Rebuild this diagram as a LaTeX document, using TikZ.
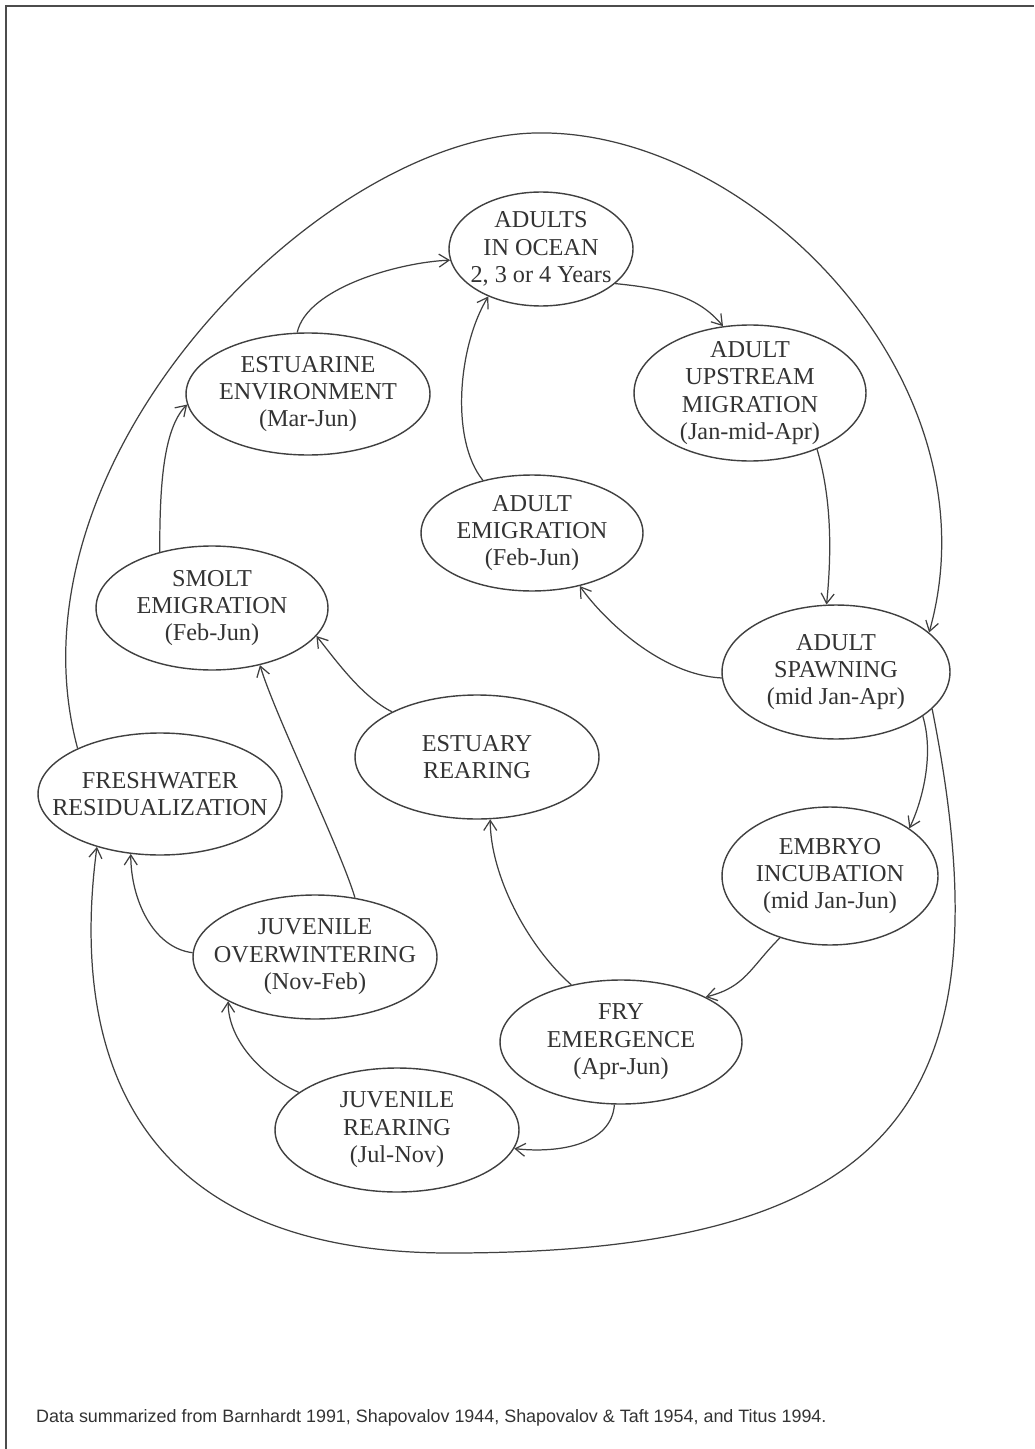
\documentclass[tikz,border=0pt]{standalone}
\usepackage{fontspec}
\setmainfont{Liberation Serif}
\newfontfamily\capfont{Liberation Sans}
\usetikzlibrary{shapes.geometric,arrows.meta}

\begin{document}
\begin{tikzpicture}[x=0.02cm, y=-0.02cm,
    >={Straight Barb[length=2mm,width=2.6mm]},
    stage/.style 2 args={draw=black!75, ellipse, inner sep=-2cm, line width=0.8pt,
        minimum width=#1, minimum height=#2, align=center, text=black!80,
        font=\fontsize{13.8}{15.6}\selectfont},
    link/.style={->, draw=black!75, line width=0.7pt}]
    \useasboundingbox (0,0) rectangle (1034,1449);
    \fill[white] (0,0) rectangle (1034,1449);
    \draw[gray!60!black, line width=1.2pt] (6,1449) -- (6,6) -- (1034,6);

    \node[stage={3.68cm}{2.28cm}] (A) at (541,249) {ADULTS\\IN OCEAN\\2, 3 or 4 Years};
    \node[stage={4.64cm}{2.72cm}] (B) at (750,393) {ADULT\\UPSTREAM\\MIGRATION\\(Jan-mid-Apr)};
    \node[stage={4.88cm}{2.44cm}] (C) at (308,394) {ESTUARINE\\ENVIRONMENT\\(Mar-Jun)};
    \node[stage={4.44cm}{2.32cm}] (D) at (532,533) {ADULT\\EMIGRATION\\(Feb-Jun)};
    \node[stage={4.64cm}{2.48cm}] (E) at (212,608) {SMOLT\\EMIGRATION\\(Feb-Jun)};
    \node[stage={4.56cm}{2.68cm}] (F) at (836,672) {ADULT\\SPAWNING\\(mid Jan-Apr)};
    \node[stage={4.88cm}{2.48cm}] (G) at (477,757) {ESTUARY\\REARING};
    \node[stage={4.88cm}{2.44cm}] (H) at (160,794) {FRESHWATER\\RESIDUALIZATION};
    \node[stage={4.32cm}{2.76cm}] (I) at (830,876) {EMBRYO\\INCUBATION\\(mid Jan-Jun)};
    \node[stage={4.88cm}{2.48cm}] (J) at (315,957) {JUVENILE\\OVERWINTERING\\(Nov-Feb)};
    \node[stage={4.84cm}{2.48cm}] (K) at (621,1042) {FRY\\EMERGENCE\\(Apr-Jun)};
    \node[stage={4.88cm}{2.48cm}] (L) at (397,1130) {JUVENILE\\REARING\\(Jul-Nov)};

    % inner cycle
    \draw[link] (C.100) .. controls +(10,-45) and +(-50,2) .. (A.187);
    \draw[link] (A.-25) .. controls +(50,5) and +(-25,-30) .. (B.112);
    \draw[link] (B.-40) .. controls +(15,50) and +(5,-50) .. (F.98);
    \draw[link] (F.183) .. controls +(-60,-3) and +(25,35) .. (D.-48);
    \draw[link] (D.133) .. controls +(-33,-41) and +(-30,49) .. (A.222);
    \draw[link] (E.133) .. controls +(0,-60) and +(-25,25) .. (C.185);
    \draw[link] (G.152) .. controls +(-30,-15) and +(20,25) .. (E.-15);
    \draw[link] (J.56) .. controls +(-15,-50) and +(15,50) .. (E.-50);
    \draw[link] (J.178) .. controls +(-40,-5) and +(0,45) .. (H.244);
    \draw[link] (L.159) .. controls +(-35,-15) and +(0,40) .. (J.207);
    \draw[link] (K.131) .. controls +(-45,-40) and +(0,55) .. (G.-78);
    \draw[link] (I.231) .. controls +(-30,30) and +(40,-10) .. (K.28);
    \draw[link] (K.-96) .. controls +(-3,40) and +(45,5) .. (L.-9);
    \draw[link] (F.-27) .. controls +(12,40) and +(12,-25) .. (I.31);

    % outer loops
    \coordinate (T) at (535,133);
    \coordinate (U) at (450,1253);
    \draw[link] (H.151) .. controls (0,460) and (320,138) .. (T)
        .. controls (750,128) and (1000,380) .. (F.23);
    \draw[link] (F.-21) .. controls (1010,1100) and (900,1253) .. (U)
        .. controls (130,1253) and (70,1050) .. (H.220);

    \node[anchor=west, text=black!80, font=\capfont\fontsize{10.2}{12}\selectfont] (N) at (30,1418)
        {Data summarized from Barnhardt 1991, Shapovalov 1944, Shapovalov \& Taft 1954, and Titus 1994.};
\end{tikzpicture}
\end{document}
